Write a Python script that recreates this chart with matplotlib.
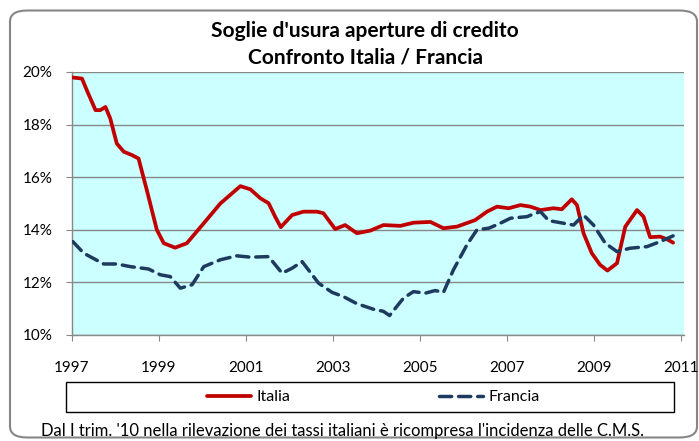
import matplotlib
matplotlib.use("Agg")
import matplotlib.pyplot as plt
from matplotlib.patches import FancyBboxPatch, Rectangle
from matplotlib.ticker import FuncFormatter

# values (decimal year, percent)
italia_x = [1997.02, 1997.23, 1997.34, 1997.54, 1997.65, 1997.77, 1997.88, 1998.03,
            1998.19, 1998.38, 1998.53, 1998.72, 1998.95, 1999.11, 1999.37, 1999.64,
            2000.03, 2000.41, 2000.87, 2001.10, 2001.33, 2001.52, 2001.67, 2001.80,
            2002.06, 2002.32, 2002.63, 2002.78, 2003.05, 2003.28, 2003.55, 2003.86,
            2004.16, 2004.55, 2004.85, 2005.24, 2005.54, 2005.85, 2006.27, 2006.54,
            2006.77, 2007.04, 2007.31, 2007.54, 2007.77, 2008.07, 2008.26, 2008.49,
            2008.61, 2008.76, 2008.95, 2009.14, 2009.31, 2009.53, 2009.72, 2009.99,
            2010.14, 2010.29, 2010.52, 2010.68, 2010.82]
italia_y = [19.79, 19.75, 19.31, 18.55, 18.55, 18.67, 18.23, 17.28,
            16.97, 16.84, 16.71, 15.51, 14.00, 13.49, 13.32, 13.49,
            14.25, 15.00, 15.66, 15.54, 15.20, 15.01, 14.50, 14.10,
            14.56, 14.69, 14.69, 14.63, 14.03, 14.18, 13.87, 13.97,
            14.18, 14.15, 14.27, 14.30, 14.06, 14.12, 14.37, 14.69,
            14.88, 14.82, 14.94, 14.88, 14.75, 14.82, 14.78, 15.16,
            14.94, 13.87, 13.11, 12.67, 12.45, 12.73, 14.12, 14.75,
            14.50, 13.72, 13.74, 13.64, 13.51]

francia_x = [1997.02, 1997.27, 1997.73, 1998.03, 1998.34, 1998.76, 1999.03, 1999.26,
             1999.49, 1999.76, 2000.03, 2000.41, 2000.79, 2001.10, 2001.52, 2001.83,
             2002.06, 2002.29, 2002.67, 2002.98, 2003.24, 2003.55, 2003.93, 2004.16,
             2004.30, 2004.62, 2004.85, 2005.12, 2005.35, 2005.54, 2005.77, 2006.08,
             2006.31, 2006.58, 2006.81, 2007.08, 2007.46, 2007.61, 2007.77, 2007.96,
             2008.23, 2008.53, 2008.76, 2008.99, 2009.26, 2009.53, 2009.83, 2010.22,
             2010.52, 2010.82]
francia_y = [13.55, 13.11, 12.70, 12.70, 12.60, 12.51, 12.29, 12.22,
             11.78, 11.91, 12.60, 12.86, 13.01, 12.96, 12.98, 12.35,
             12.54, 12.79, 11.97, 11.62, 11.46, 11.19, 10.98, 10.90,
             10.74, 11.40, 11.65, 11.59, 11.69, 11.62, 12.48, 13.43,
             14.00, 14.06, 14.22, 14.44, 14.50, 14.60, 14.69, 14.35,
             14.27, 14.18, 14.56, 14.18, 13.49, 13.17, 13.30, 13.36,
             13.55, 13.77]

year_ticks = [1997, 1999, 2001, 2003, 2005, 2007, 2009, 2011]
pct_ticks = [10, 12, 14, 16, 18, 20]

title = "Soglie d'usura aperture di credito\nConfronto Italia / Francia"
note = "Dal I trim. '10 nella rilevazione dei tassi italiani è ricompresa l'incidenza delle C.M.S."

plt.rcParams['font.family'] = ['Lato', 'DejaVu Sans']

W, H = 699, 441
fig = plt.figure(figsize=(W / 100, H / 100), dpi=100)

# rounded outer border
border = FancyBboxPatch((10 / W, 3.5 / H), 687 / W, 427 / H,
                        boxstyle="round,pad=0,rounding_size=0.025",
                        transform=fig.transFigure, facecolor="white",
                        edgecolor="#868686", linewidth=1.5, zorder=-5)
fig.patches.append(border)

ax = fig.add_axes([72 / W, 1 - 335 / H, 612 / W, 263 / H])
ax.set_facecolor("#CCFFFF")

ax.plot(italia_x, italia_y, color="#C00000", lw=2.7, solid_joinstyle="round",
        solid_capstyle="round", label="Italia", zorder=3)
ax.plot(francia_x, francia_y, color="#1F3A5F", lw=2.5, ls=(0, (3.5, 2.0)),
        dash_capstyle="round", label="Francia", zorder=3)

ax.set_xlim(1997, 2011.07)
ax.set_ylim(10, 20)
ax.set_xticks(year_ticks)
ax.set_yticks(pct_ticks)
ax.yaxis.set_major_formatter(FuncFormatter(lambda v, p: "%d%%" % v))
ax.yaxis.grid(True, color="#888888", lw=1.0)
ax.set_axisbelow(True)
for s in ("top", "right"):
    ax.spines[s].set_visible(False)
for s in ("left", "bottom"):
    ax.spines[s].set_color("#888888")
    ax.spines[s].set_linewidth(1.0)
ax.tick_params(axis="y", direction="out", length=4, color="#888888",
               labelsize=11, pad=10)
ax.tick_params(axis="x", direction="out", length=4, color="#888888",
               labelsize=11, pad=15)

fig.text(365 / W, 1 - 31 / H, title.split("\n")[0], ha="center", va="center",
         fontsize=15, fontweight="bold")
fig.text(365 / W, 1 - 58 / H, title.split("\n")[1], ha="center", va="center",
         fontsize=15, fontweight="bold")

# legend box
fig.patches.append(Rectangle((66 / W, 1 - 412 / H), 608 / W, 30 / H,
                             transform=fig.transFigure, facecolor="white",
                             edgecolor="black", linewidth=1.0))
fig.legend(loc="center", bbox_to_anchor=(373 / W, 1 - 397 / H), ncol=2,
           frameon=False, fontsize=11.5, handlelength=2.8, handletextpad=0.3,
           columnspacing=9.3)

fig.text(41 / W, 1 - 431 / H, note, ha="left", va="center", fontsize=12)

fig.savefig("out.png", dpi=100)
